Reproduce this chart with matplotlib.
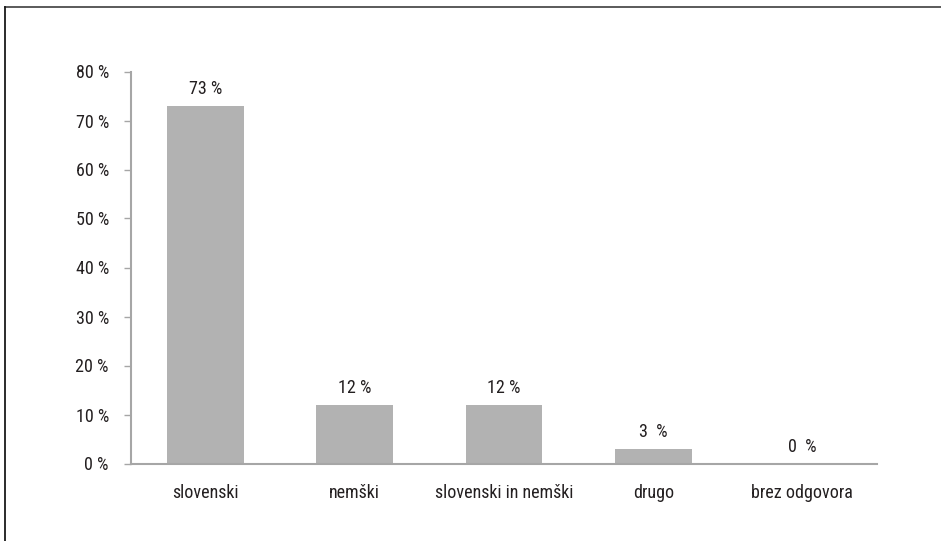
import matplotlib
matplotlib.use("Agg")
import matplotlib.pyplot as plt
from matplotlib.lines import Line2D
from matplotlib import font_manager

categories = ["slovenski", "nemški", "slovenski in nemški", "drugo", "brez odgovora"]
values = [73, 12, 12, 3, 0]
value_labels = ["73 %", "12 %", "12 %", "3  %", "0  %"]
yticks = [0, 10, 20, 30, 40, 50, 60, 70, 80]
ytick_labels = [f"{v} %" for v in yticks]

# prefer a narrow sans face when one is available
names = {f.name for f in font_manager.fontManager.ttflist}
fs = 11.5
family = ["Roboto", "DejaVu Sans"]
for cand, size in [("Roboto Condensed", 13), ("Open Sans Condensed", 13),
                   ("Liberation Sans Narrow", 13)]:
    if cand in names:
        family = [cand, "DejaVu Sans"]
        fs = size
        break
plt.rcParams["font.family"] = family

W, H, DPI = 941, 541, 100
fig = plt.figure(figsize=(W / DPI, H / DPI), dpi=DPI)
ax = fig.add_axes([131 / W, 1 - 463.5 / H, (877 - 131) / W, (463.5 - 71.5) / H])

text_color = "#231f20"
axis_color = "#a6a6a6"
x = list(range(len(categories)))
ax.bar(x, values, width=0.515, color="#b2b2b2", zorder=2)
for xi, v, lab in zip(x, values, value_labels):
    ax.text(xi, v + 1.5, lab, ha="center", va="bottom", fontsize=fs, color=text_color)

ax.set_xlim(-0.5, len(categories) - 0.5)
ax.set_ylim(0, 80)
ax.set_yticks(yticks)
ax.set_yticklabels(ytick_labels, fontsize=fs, color=text_color)
ax.set_xticks(x)
ax.set_xticklabels(categories, fontsize=fs, color=text_color)
ax.tick_params(axis="y", length=5, width=1, color=axis_color, pad=11)
ax.tick_params(axis="x", length=0, pad=15)
for s in ["top", "right"]:
    ax.spines[s].set_visible(False)
for s in ["left", "bottom"]:
    ax.spines[s].set_color(axis_color)
    ax.spines[s].set_linewidth(1.5)

# frame lines along the top and left edges
fig.add_artist(Line2D([4.5 / W, 1], [1 - 7 / H, 1 - 7 / H], color="#4d4d4d", lw=1.3, transform=fig.transFigure))
fig.add_artist(Line2D([4.5 / W, 4.5 / W], [0, 1 - 7 / H], color="#1a1a1a", lw=1.3, transform=fig.transFigure))

fig.savefig("out.png", dpi=DPI)
